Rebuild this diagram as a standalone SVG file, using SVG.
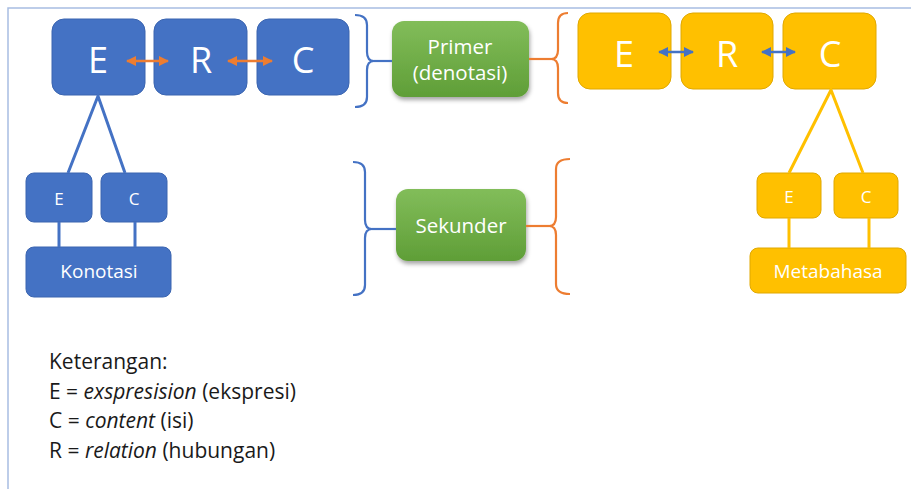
<svg xmlns="http://www.w3.org/2000/svg" width="911" height="489" viewBox="0 0 911 489">
  <defs>
    <linearGradient id="greenFill" x1="0" y1="0" x2="0" y2="1">
      <stop offset="0" stop-color="#82bd5a"/>
      <stop offset="1" stop-color="#5f9e37"/>
    </linearGradient>
    <filter id="shadow" x="-20%" y="-20%" width="140%" height="150%">
      <feDropShadow dx="1" dy="3" stdDeviation="2" flood-color="#000" flood-opacity="0.35"/>
    </filter>
    <marker id="headOrange" viewBox="0 0 10 10" refX="9" refY="5" markerWidth="10" markerHeight="10" markerUnits="userSpaceOnUse" orient="auto-start-reverse">
      <path d="M0,0 L10,5 L0,10 Z" fill="#ed7d31"/>
    </marker>
    <marker id="headBlue" viewBox="0 0 10 10" refX="9" refY="5" markerWidth="10" markerHeight="10" markerUnits="userSpaceOnUse" orient="auto-start-reverse">
      <path d="M0,0 L10,5 L0,10 Z" fill="#4472c4"/>
    </marker>
  </defs>
  <style>
    .txt { font-family: "Open Sans", "Liberation Sans", sans-serif; fill: #fff; text-anchor: middle; }
    .big { font-size: 36px; }
    .small { font-size: 17px; }
    .mid { font-size: 19px; }
    .lbl { font-size: 20.5px; }
    .blue { fill: #4472c4; stroke: #3b65b0; stroke-width: 1; }
    .yellow { fill: #ffc000; stroke: #e0a800; stroke-width: 1; }
    .green { fill: url(#greenFill); filter: url(#shadow); }
    .lineBlue { stroke: #4472c4; stroke-width: 3; fill: none; }
    .lineYellow { stroke: #ffc000; stroke-width: 3; fill: none; }
    .bracketBlue { stroke: #4472c4; stroke-width: 2.2; fill: none; }
    .bracketOrange { stroke: #ed7d31; stroke-width: 2.2; fill: none; }
    .legend { font-family: "Open Sans", "Liberation Sans", sans-serif; font-size: 21px; fill: #1a1a1a; }
  </style>

  <rect width="911" height="489" fill="#fff"/>
  <!-- frame -->
  <path d="M8,489 L8,8 L911,8" fill="none" stroke="#a8bde2" stroke-width="1.5"/>

  <!-- left (blue) structure -->
  <g id="blue-E">
    <rect class="blue" x="52" y="19" width="93" height="76" rx="12"/>
    <text class="txt big" x="98" y="73">E</text>
  </g>
  <g id="blue-R">
    <rect class="blue" x="154" y="19" width="93" height="76" rx="12"/>
    <text class="txt big" x="201" y="73">R</text>
  </g>
  <g id="blue-C">
    <rect class="blue" x="257" y="19" width="92" height="76" rx="12"/>
    <text class="txt big" x="303" y="73">C</text>
  </g>
  <g id="blue-small-E">
    <rect class="blue" x="26" y="173" width="66" height="49" rx="8"/>
    <text class="txt small" x="59" y="205">E</text>
  </g>
  <g id="blue-small-C">
    <rect class="blue" x="101" y="173" width="66" height="49" rx="8"/>
    <text class="txt small" x="134" y="205">C</text>
  </g>
  <g id="konotasi">
    <rect class="blue" x="26" y="247" width="145" height="50" rx="8"/>
    <text class="txt mid" x="99" y="278">Konotasi</text>
  </g>

  <!-- middle (green) labels -->
  <g id="primer">
    <rect class="green" x="392" y="21" width="137" height="76" rx="12"/>
    <text class="txt lbl" x="460" y="54">Primer</text>
    <text class="txt lbl" x="460" y="80">(denotasi)</text>
  </g>
  <g id="sekunder">
    <rect class="green" x="396" y="189" width="130" height="72" rx="12"/>
    <text class="txt lbl" x="461" y="233">Sekunder</text>
  </g>

  <!-- right (yellow) structure -->
  <g id="yellow-E">
    <rect class="yellow" x="578" y="13" width="93" height="76" rx="12"/>
    <text class="txt big" x="624" y="67">E</text>
  </g>
  <g id="yellow-R">
    <rect class="yellow" x="681" y="13" width="92" height="76" rx="12"/>
    <text class="txt big" x="727" y="67">R</text>
  </g>
  <g id="yellow-C">
    <rect class="yellow" x="783" y="13" width="93" height="76" rx="12"/>
    <text class="txt big" x="830" y="67">C</text>
  </g>
  <g id="yellow-small-E">
    <rect class="yellow" x="757" y="173" width="64" height="45" rx="8"/>
    <text class="txt small" x="789" y="203">E</text>
  </g>
  <g id="yellow-small-C">
    <rect class="yellow" x="834" y="173" width="64" height="45" rx="8"/>
    <text class="txt small" x="866" y="203">C</text>
  </g>
  <g id="metabahasa">
    <rect class="yellow" x="750" y="248" width="156" height="45" rx="8"/>
    <text class="txt mid" x="828" y="278">Metabahasa</text>
  </g>

  <!-- connectors -->
  <g id="connectors">
    <!-- double arrows between the top boxes -->
    <line x1="127" y1="61" x2="168" y2="61" stroke="#ed7d31" stroke-width="2.5" marker-start="url(#headOrange)" marker-end="url(#headOrange)"/>
    <line x1="228" y1="61" x2="272" y2="61" stroke="#ed7d31" stroke-width="2.5" marker-start="url(#headOrange)" marker-end="url(#headOrange)"/>
    <line x1="659" y1="52" x2="693" y2="52" stroke="#4472c4" stroke-width="2.5" marker-start="url(#headBlue)" marker-end="url(#headBlue)"/>
    <line x1="762" y1="52" x2="795" y2="52" stroke="#4472c4" stroke-width="2.5" marker-start="url(#headBlue)" marker-end="url(#headBlue)"/>
    <!-- tree lines, left side -->
    <path class="lineBlue" d="M68,173 L98,96 L125,173"/>
    <line class="lineBlue" x1="59" y1="222" x2="59" y2="247"/>
    <line class="lineBlue" x1="135" y1="222" x2="135" y2="247"/>
    <!-- tree lines, right side -->
    <path class="lineYellow" d="M789,173 L831,90 L863,173"/>
    <line class="lineYellow" x1="789" y1="218" x2="789" y2="248"/>
    <line class="lineYellow" x1="869" y1="218" x2="869" y2="248"/>
    <!-- brackets, upper pair -->
    <path class="bracketBlue" d="M355,15 Q367,15 367,25 L367,52 Q367,61 374,61 Q367,61 367,70 L367,97 Q367,107 355,107"/>
    <line class="bracketBlue" x1="374" y1="61" x2="392" y2="61"/>
    <path class="bracketOrange" d="M568,13 Q558,13 558,23 L558,50 Q558,59 551,59 Q558,59 558,68 L558,93 Q558,103 568,103"/>
    <line class="bracketOrange" x1="529" y1="59" x2="551" y2="59"/>
    <!-- brackets, lower pair -->
    <path class="bracketBlue" d="M353,162 Q365,162 365,172 L365,220 Q365,229 372,229 Q365,229 365,238 L365,285 Q365,295 353,295"/>
    <line class="bracketBlue" x1="372" y1="229" x2="396" y2="229"/>
    <path class="bracketOrange" d="M570,159 Q556,159 556,169 L556,217 Q556,226 549,226 Q556,226 556,235 L556,284 Q556,294 570,294"/>
    <line class="bracketOrange" x1="526" y1="226" x2="549" y2="226"/>
  </g>

  <!-- legend -->
  <g id="legend">
    <text class="legend" x="49" y="369">Keterangan:</text>
    <text class="legend" x="49" y="399">E = <tspan font-style="italic">exspresision</tspan> (ekspresi)</text>
    <text class="legend" x="49" y="428">C = <tspan font-style="italic">content</tspan> (isi)</text>
    <text class="legend" x="49" y="458">R = <tspan font-style="italic">relation</tspan> (hubungan)</text>
  </g>
</svg>
